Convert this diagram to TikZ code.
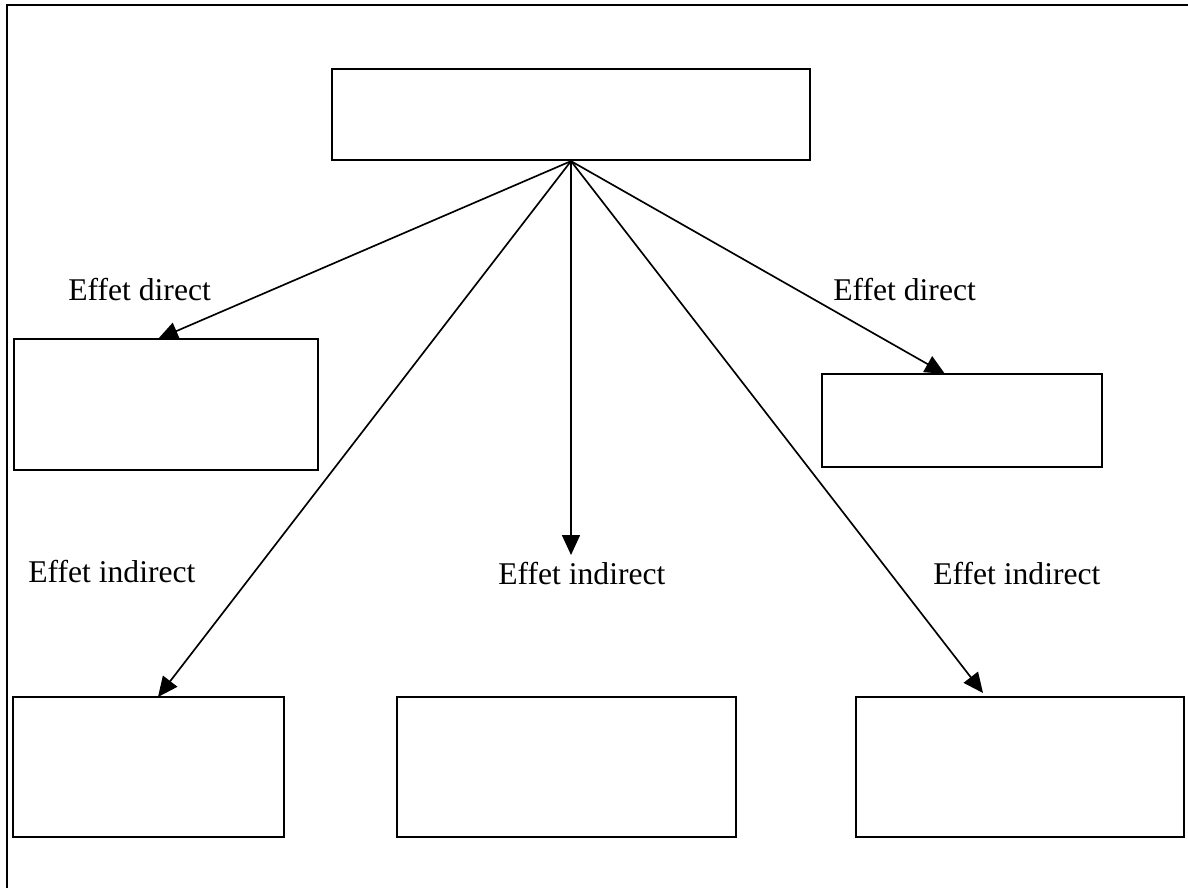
\documentclass[tikz,border=0pt]{standalone}
\usepackage{fontspec}
\setmainfont{Liberation Serif}
\usepackage{tikz}
\usetikzlibrary{arrows.meta}
\tikzset{box/.style={draw,line width=1.3pt,fill=white,inner sep=0pt},lbl/.style={anchor=base west,inner sep=0pt,font=\fontsize{18}{22}\selectfont}}
\tikzset{eff/.style={line width=.95pt,-{Triangle[length=.4cm,width=.36cm]}}}

\begin{document}
\begin{tikzpicture}[x=0.02cm,y=-0.02cm]
\useasboundingbox (0,0) rectangle (1188,888);
\draw[line width=1.4pt] (7,888) -- (7,5) -- (1188,5);
\node[box,minimum width=9.56cm,minimum height=1.82cm] (top) at (571,114.5) {};
\node[box,minimum width=6.08cm,minimum height=2.62cm] (dl) at (166,404.5) {};
\node[box,minimum width=5.6cm,minimum height=1.86cm] (dr) at (962,420.5) {};
\node[box,minimum width=5.42cm,minimum height=2.8cm] (il) at (148.5,767) {};
\node[box,minimum width=6.78cm,minimum height=2.8cm] (im) at (566.5,767) {};
\node[box,minimum width=6.56cm,minimum height=2.8cm] (ir) at (1020,767) {};
\coordinate (tdl) at (158,339);
\coordinate (tdr) at (945,374);
\coordinate (tm) at (571,555);
\coordinate (til) at (158,697);
\coordinate (tir) at (983,693);
\draw[eff] (top.south) -- (tdl);
\draw[eff] (top.south) -- (tdr);
\draw[eff] (top.south) -- (tm);
\draw[eff] (top.south) -- (til);
\draw[eff] (top.south) -- (tir);
\node[lbl] (ldl) at (68,301) {Effet direct};
\node[lbl] (ldr) at (833,301) {Effet direct};
\node[lbl] (lil) at (28,583) {Effet indirect};
\node[lbl] (lim) at (498,585) {Effet indirect};
\node[lbl] (lir) at (933,585) {Effet indirect};
\end{tikzpicture}
\end{document}
